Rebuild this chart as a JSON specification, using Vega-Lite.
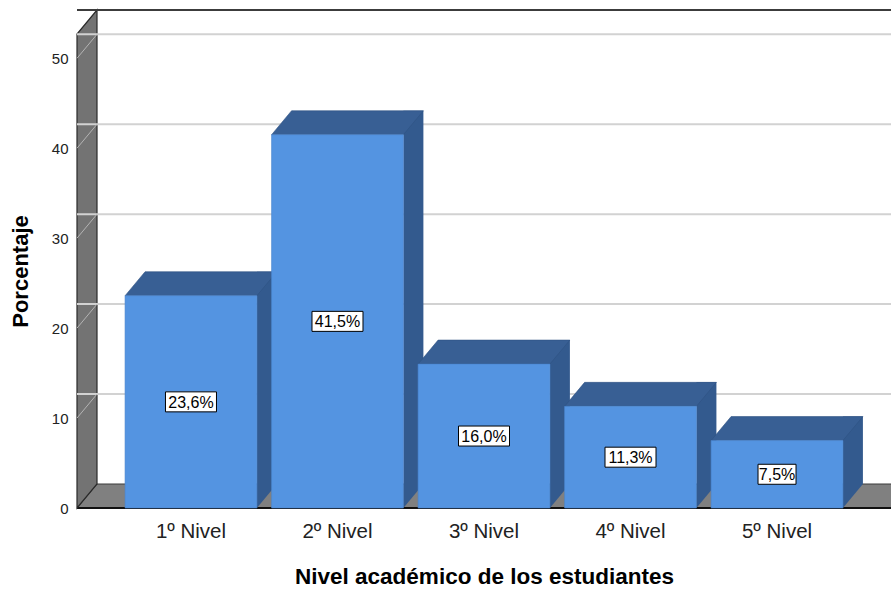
{
  "$schema": "https://vega.github.io/schema/vega-lite/v6.json",
  "width": 814,
  "height": 474,
  "autosize": {"type": "none"},
  "padding": {"left": 77, "top": 34, "right": 0, "bottom": 81},
  "background": "white",
  "config": {
    "view": {"stroke": null},
    "font": "Liberation Sans",
    "axisY": {
      "domain": false, "ticks": false, "grid": false, "tickCount": 6,
      "labelFontSize": 15, "labelColor": "#222222", "labelPadding": 9,
      "titleFontSize": 22, "titleFontWeight": "bold", "titleColor": "#000000", "titlePadding": 19
    },
    "axisX": {
      "domain": false, "ticks": false, "grid": false, "labelAngle": 0,
      "labelFontSize": 20.5, "labelColor": "#222222", "labelPadding": 13,
      "titleFontSize": 22.5, "titleFontWeight": "bold", "titleColor": "#000000", "titlePadding": 24
    }
  },
  "datasets": {
    "niveles": [
      {"nivel": "1º Nivel", "porcentaje": 23.6, "etiqueta": "23,6%"},
      {"nivel": "2º Nivel", "porcentaje": 41.5, "etiqueta": "41,5%"},
      {"nivel": "3º Nivel", "porcentaje": 16.0, "etiqueta": "16,0%"},
      {"nivel": "4º Nivel", "porcentaje": 11.3, "etiqueta": "11,3%"},
      {"nivel": "5º Nivel", "porcentaje": 7.5, "etiqueta": "7,5%"}
    ],
    "rejilla": [{"valor": 10}, {"valor": 20}, {"valor": 30}, {"valor": 40}, {"valor": 50}]
  },
  "data": {"name": "niveles"},
  "layer": [
    {
      "layer": [
        {
          "description": "floor of the 3D box",
          "data": {"values": [{}]},
          "mark": {"type": "point", "shape": "M-407,0 L407,0 L427,-24 L-387,-24 Z", "size": 4, "filled": true, "opacity": 1, "color": "#808080", "stroke": "#3a3a3a", "strokeWidth": 1},
          "encoding": {"y": {"datum": 0, "type": "quantitative", "scale": {"domain": [0, 52.7], "nice": false}, "title": "Porcentaje"}}
        },
        {
          "description": "front floor edge",
          "data": {"values": [{}]},
          "mark": {"type": "rule", "color": "#111111", "strokeWidth": 2},
          "encoding": {"y": {"datum": 0, "type": "quantitative", "title": "Porcentaje"}}
        },
        {
          "description": "left wall of the 3D box",
          "data": {"values": [{}]},
          "mark": {"type": "point", "shape": "M-407,0 L-407,-474 L-387,-498 L-387,-24 Z", "size": 4, "filled": true, "opacity": 1, "color": "#737373", "stroke": "#2a2a2a", "strokeWidth": 1.2},
          "encoding": {"y": {"datum": 0, "type": "quantitative", "title": "Porcentaje"}}
        },
        {
          "description": "gridlines on the back wall",
          "data": {"name": "rejilla"},
          "mark": {"type": "rule", "color": "#d2d2d2", "strokeWidth": 2, "xOffset": 20, "x2Offset": 0, "yOffset": -24},
          "encoding": {"y": {"field": "valor", "type": "quantitative", "title": "Porcentaje"}}
        },
        {
          "description": "gridlines across the left wall",
          "data": {"name": "rejilla"},
          "mark": {"type": "point", "shape": "M-407,0 L-387,-24", "size": 4, "filled": false, "opacity": 1, "color": "#b4b4b4", "strokeWidth": 1},
          "encoding": {"y": {"field": "valor", "type": "quantitative", "title": "Porcentaje"}}
        },
        {
          "description": "top edge of the back wall",
          "data": {"values": [{}]},
          "mark": {"type": "rule", "color": "#3c3c3c", "strokeWidth": 2, "xOffset": 20, "x2Offset": 0, "yOffset": -24},
          "encoding": {"y": {"datum": 52.7, "type": "quantitative", "title": "Porcentaje"}}
        },
        {
          "description": "right side face of each bar",
          "mark": {"type": "bar", "width": 20, "xOffset": 75.9, "yOffset": -24, "y2Offset": -24, "color": "#335A8E"},
          "encoding": {
            "x": {"field": "nivel", "type": "nominal", "sort": null, "scale": {"type": "band", "paddingInner": 0.1, "paddingOuter": 0.328}, "title": "Nivel académico de los estudiantes"},
            "y": {"field": "porcentaje", "type": "quantitative", "title": "Porcentaje"}
          }
        },
        {
          "description": "lower corner of each side face",
          "mark": {"type": "point", "shape": "M65.9,0 L65.9,-24 L85.9,-24 Z", "size": 4, "filled": true, "opacity": 1, "color": "#335A8E", "strokeWidth": 0},
          "encoding": {
            "x": {"field": "nivel", "type": "nominal", "sort": null, "title": "Nivel académico de los estudiantes"},
            "y": {"datum": 0, "type": "quantitative", "title": "Porcentaje"}
          }
        },
        {
          "description": "top face of each bar",
          "mark": {"type": "point", "shape": "M-65.9,0 L65.9,0 L85.9,-24 L-45.9,-24 Z", "size": 4, "filled": true, "opacity": 1, "color": "#385F94", "stroke": "#2f5283", "strokeWidth": 0.6},
          "encoding": {
            "x": {"field": "nivel", "type": "nominal", "sort": null, "title": "Nivel académico de los estudiantes"},
            "y": {"field": "porcentaje", "type": "quantitative", "title": "Porcentaje"}
          }
        },
        {
          "description": "front face of each bar",
          "mark": {"type": "bar", "color": "#5494E1", "stroke": "#4a84cc", "strokeWidth": 0.6},
          "encoding": {
            "x": {"field": "nivel", "type": "nominal", "sort": null, "title": "Nivel académico de los estudiantes"},
            "y": {"field": "porcentaje", "type": "quantitative", "title": "Porcentaje"}
          }
        }
      ]
    },
    {
      "description": "value labels at mid-height of each bar (doubled domain puts each value at half its bar)",
      "layer": [
        {
          "mark": {"type": "point", "size": 4, "filled": true, "opacity": 1, "color": "#ffffff", "stroke": "#000000", "strokeWidth": 1},
          "encoding": {
            "x": {"field": "nivel", "type": "nominal", "sort": null, "title": "Nivel académico de los estudiantes"},
            "y": {"field": "porcentaje", "type": "quantitative", "scale": {"domain": [0, 105.4], "nice": false}, "axis": null},
            "shape": {
              "field": "etiqueta", "type": "nominal", "legend": null,
              "scale": {
                "domain": ["23,6%", "41,5%", "16,0%", "11,3%", "7,5%"],
                "range": [
                  "M-25.5,-10 L25.5,-10 L25.5,10 L-25.5,10 Z",
                  "M-25.5,-10 L25.5,-10 L25.5,10 L-25.5,10 Z",
                  "M-25.5,-10 L25.5,-10 L25.5,10 L-25.5,10 Z",
                  "M-25.5,-10 L25.5,-10 L25.5,10 L-25.5,10 Z",
                  "M-19,-10 L19,-10 L19,10 L-19,10 Z"
                ]
              }
            }
          }
        },
        {
          "mark": {"type": "text", "fontSize": 16, "color": "#000000", "align": "center", "baseline": "middle", "dy": 1},
          "encoding": {
            "x": {"field": "nivel", "type": "nominal", "sort": null, "title": "Nivel académico de los estudiantes"},
            "y": {"field": "porcentaje", "type": "quantitative", "axis": null},
            "text": {"field": "etiqueta"}
          }
        }
      ]
    }
  ],
  "resolve": {"scale": {"y": "independent"}}
}
